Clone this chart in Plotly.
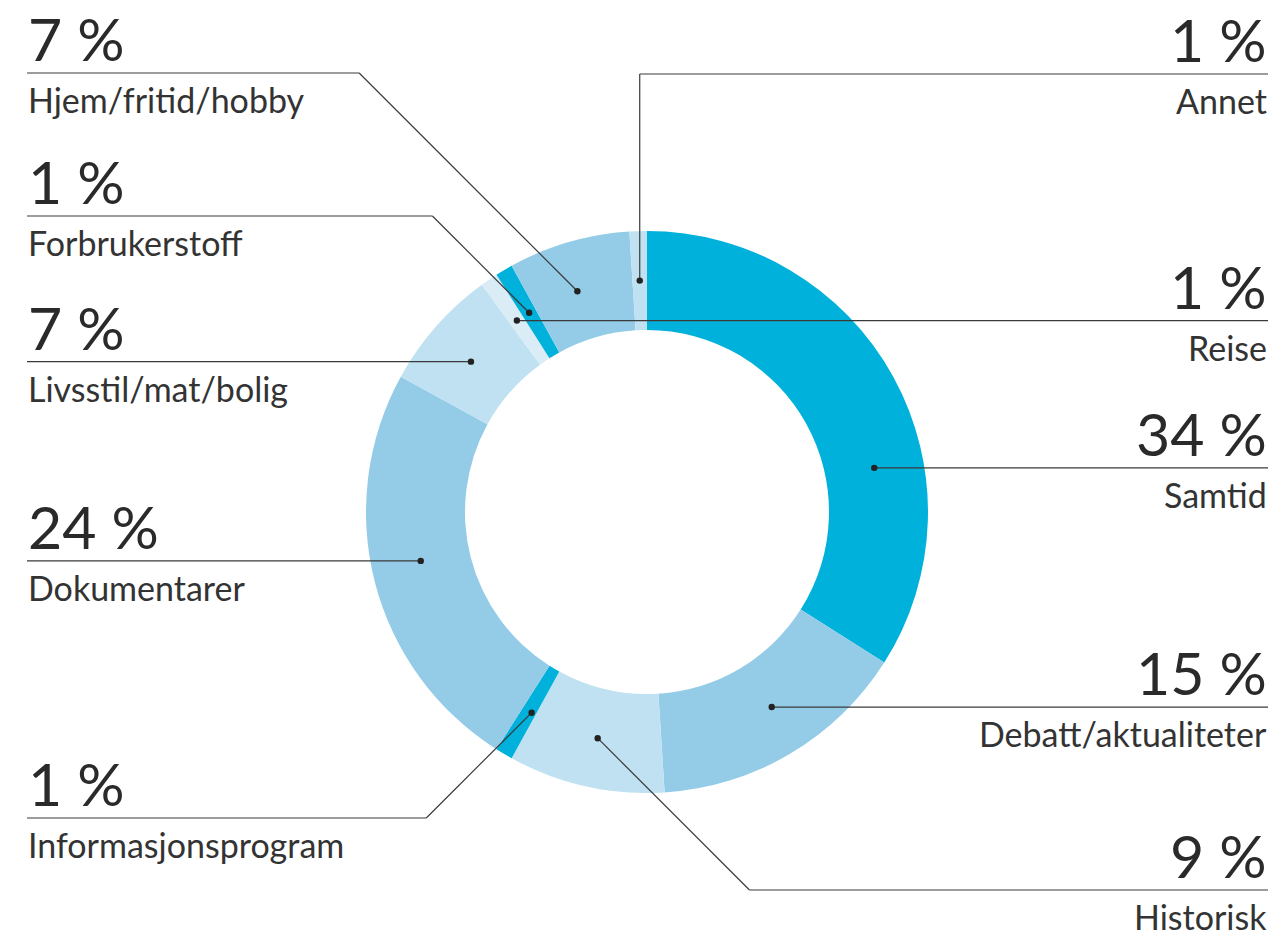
import math
import plotly.graph_objects as go

# Share of programme hours by category (percent), clockwise from 12 o'clock
categories = ["Samtid", "Debatt/aktualiteter", "Historisk", "Informasjonsprogram",
              "Dokumentarer", "Livsstil/mat/bolig", "Reise", "Forbrukerstoff",
              "Hjem/fritid/hobby", "Annet"]
shares = [34, 15, 9, 1, 24, 7, 1, 1, 7, 1]
pct_labels = [f"{v} %" for v in shares]
slice_colors = ["#00b1db", "#94cce8", "#bfe1f1", "#00b1db", "#94cce8",
                "#bfe1f1", "#daedf7", "#00b1db", "#94cce8", "#bfe1f1"]

# Canvas and ring geometry (pixels)
W, H = 1282, 940
CX, CY = 647, 512
R_OUT, R_IN = 281, 182
R_DOT = (R_OUT + R_IN) / 2
LEFT_X, RIGHT_X = 27, 1268
TEXT = "#2a2a2a"
NAME_TEXT = "#333333"
LINE = "#3a3a3a"

# Where each callout goes: side, leader style, label line y, small angle nudge
callouts = {
    "Samtid": dict(side="right", style="flat", nudge=17.8),
    "Debatt/aktualiteter": dict(side="right", style="flat", nudge=-2.0),
    "Historisk": dict(side="right", style="diag", line_y=890, nudge=-0.3),
    "Informasjonsprogram": dict(side="left", style="diag", line_y=818, nudge=-0.7),
    "Dokumentarer": dict(side="left", style="flat", nudge=2.2),
    "Livsstil/mat/bolig": dict(side="left", style="flat", nudge=-0.9),
    "Reise": dict(side="right", style="flat"),
    "Forbrukerstoff": dict(side="left", style="diag", line_y=216),
    "Hjem/fritid/hobby": dict(side="left", style="diag", line_y=73, nudge=-1.3),
    "Annet": dict(side="right", style="vert", line_y=74),
}


def px(x):
    return x / W


def py(y):
    return 1 - y / H


fig = go.Figure()
fig.add_trace(go.Pie(
    labels=categories,
    values=shares,
    sort=False,
    direction="clockwise",
    rotation=0,
    hole=R_IN / R_OUT,
    marker=dict(colors=slice_colors, line=dict(width=0)),
    textinfo="none",
    hoverinfo="label+percent",
    showlegend=False,
    domain=dict(x=[px(CX - R_OUT), px(CX + R_OUT)],
                y=[py(CY + R_OUT), py(CY - R_OUT)]),
))

shapes = []
annotations = []
total = sum(shares)
start = 0.0
for name, val, pct in zip(categories, shares, pct_labels):
    span = 360.0 * val / total
    cfg = callouts[name]
    ang = math.radians(start + span / 2 + cfg.get("nudge", 0.0))
    start += span
    dx = CX + R_DOT * math.sin(ang)
    dy = CY - R_DOT * math.cos(ang)

    edge = LEFT_X if cfg["side"] == "left" else RIGHT_X
    sgn = -1 if cfg["side"] == "left" else 1
    if cfg["style"] == "flat":
        ly = dy
        pts = [(dx, dy), (edge, ly)]
    elif cfg["style"] == "diag":
        ly = cfg["line_y"]
        ex = dx + sgn * abs(ly - dy)
        pts = [(dx, dy), (ex, ly), (edge, ly)]
    else:
        ly = cfg["line_y"]
        pts = [(dx, dy), (dx, ly), (edge, ly)]

    for (x0, y0), (x1, y1) in zip(pts[:-1], pts[1:]):
        shapes.append(dict(type="line", xref="paper", yref="paper", layer="above",
                           x0=px(x0), y0=py(y0), x1=px(x1), y1=py(y1),
                           line=dict(color=LINE, width=1.2)))
    r = 3.2
    shapes.append(dict(type="circle", xref="paper", yref="paper", layer="above",
                       x0=px(dx - r), x1=px(dx + r), y0=py(dy + r), y1=py(dy - r),
                       fillcolor="#222222", line=dict(width=0)))

    anchor = "left" if cfg["side"] == "left" else "right"
    annotations.append(dict(
        text=pct, x=px(edge), y=py(ly + 2), xref="paper", yref="paper",
        xanchor=anchor, yanchor="bottom", showarrow=False, borderpad=0,
        font=dict(family="Lato", size=59, color=TEXT, weight=400)))
    annotations.append(dict(
        text=name, x=px(edge), y=py(ly + 5), xref="paper", yref="paper",
        xanchor=anchor, yanchor="top", showarrow=False, borderpad=0,
        font=dict(family="Lato", size=34, color=NAME_TEXT)))

fig.update_layout(
    width=W, height=H, autosize=False,
    margin=dict(l=0, r=0, t=0, b=0),
    paper_bgcolor="white", plot_bgcolor="white",
    shapes=shapes, annotations=annotations,
)

fig.write_html("out.html")
